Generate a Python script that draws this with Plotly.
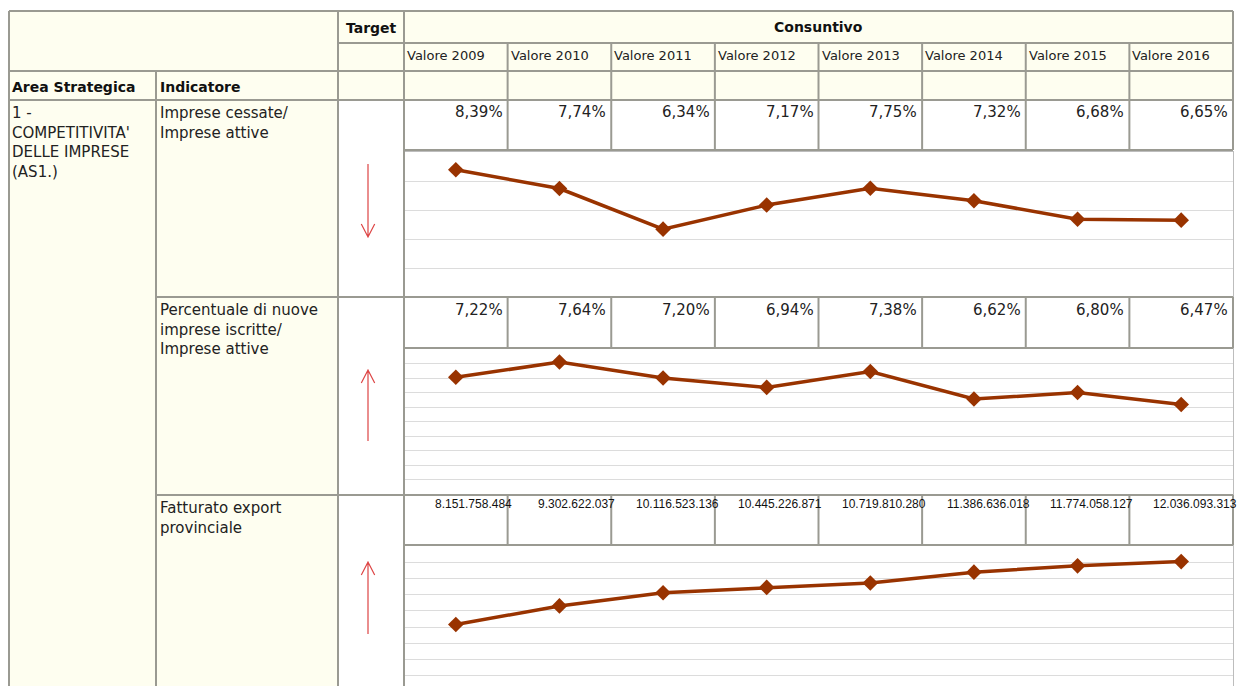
import plotly.graph_objects as go

# ---------------- data ----------------
years = ["2009", "2010", "2011", "2012", "2013", "2014", "2015", "2016"]
col_labels = ["Valore " + y for y in years]
area_label = "1 -<br>COMPETITIVITA'<br>DELLE IMPRESE<br>(AS1.)"
indicators = [
    "Imprese cessate/<br>Imprese attive",
    "Percentuale di nuove<br>imprese iscritte/<br>Imprese attive",
    "Fatturato export<br>provinciale",
]
targets = ["down", "up", "up"]
cessate = [8.39, 7.74, 6.34, 7.17, 7.75, 7.32, 6.68, 6.65]
iscritte = [7.22, 7.64, 7.20, 6.94, 7.38, 6.62, 6.80, 6.47]
export = [8151758484, 9302622037, 10116523136, 10445226871,
          10719810280, 11386636018, 11774058127, 12036093313]

# ---------------- layout helpers ----------------
W, H = 1242, 686
def X(px): return px / W
def Y(py): return 1 - py / H

LINE = "#9a9a92"
CREAM = "#fefef0"
BROWN = "#993300"
RED = "#dd4444"
GRID = "#dcdcdc"
FONT = "DejaVu Sans"

L, C1, C2, C3 = 9, 156, 338, 404
col_w = (1233 - 404) / 8
col_x = [C3 + col_w * i for i in range(9)]
R = col_x[-1]

# rows: (value row top, value row bottom, chart top, chart bottom)
rows = [(100, 150, 152, 297), (297, 348, 349, 494), (495, 545, 546, 686)]

fig = go.Figure()

series = [cessate, iscritte, export]
yranges = [([4, 9], 1), ([4, 8], 0.4), ([4.36e9, 13e9], 1e9)]
for k, (vals, (rng, dt)) in enumerate(zip(series, yranges)):
    ax = "" if k == 0 else str(k + 1)
    fig.add_trace(go.Scatter(
        x=list(range(len(years))), y=vals, mode="lines+markers",
        line=dict(color=BROWN, width=3.5),
        marker=dict(symbol="diamond", size=12, color=BROWN),
        xaxis="x" + ax, yaxis="y" + ax, showlegend=False, hoverinfo="skip"))
    _, _, ct, cb = rows[k]
    last = k == 2
    fig.update_layout(**{
        "xaxis" + ax: dict(domain=[X(C3), X(R)], range=[-0.5, 7.5],
                           showticklabels=False, showgrid=False, zeroline=False,
                           showline=True, linecolor="#bdbdbd", linewidth=1,
                           mirror=not last, side="top" if last else "bottom",
                           ticks="", anchor="y" + ax, fixedrange=True),
        "yaxis" + ax: dict(domain=[Y(cb), Y(ct)], range=rng, dtick=dt, tick0=0,
                           showticklabels=False, showgrid=True, gridcolor=GRID,
                           gridwidth=1.2, zeroline=False, showline=True,
                           linecolor="#bdbdbd", linewidth=1, mirror=True,
                           ticks="", anchor="x" + ax, fixedrange=True),
    })

shapes = []
def rect(x0, y0, x1, y1, color):
    shapes.append(dict(type="rect", xref="paper", yref="paper", x0=X(x0), x1=X(x1),
                       y0=Y(y1), y1=Y(y0), fillcolor=color, line=dict(width=0),
                       layer="below"))
def hline(y, x0, x1, w=2, c=LINE):
    shapes.append(dict(type="line", xref="paper", yref="paper", x0=X(x0), x1=X(x1),
                       y0=Y(y), y1=Y(y), line=dict(color=c, width=w)))
def vline(x, y0, y1, w=2, c=LINE):
    shapes.append(dict(type="line", xref="paper", yref="paper", x0=X(x), x1=X(x),
                       y0=Y(y0), y1=Y(y1), line=dict(color=c, width=w)))

rect(L, 11, R, 100, CREAM)
rect(L, 100, C2, H, CREAM)

hline(11, L, R)
hline(43, C2, R)
hline(71, L, R)
hline(100, L, R)
for (vt, vb, ct, cb) in rows:
    hline(vb, C3, R)
    if vt != 100:
        hline(vt, C1, R)
vline(L, 11, H)
vline(C1, 71, H)
vline(C2, 11, H)
vline(C3, 11, H)
vline(R, 11, 150)
for (vt, vb, ct, cb) in rows[1:]:
    vline(R, vt, vb)
for cx in col_x[1:-1]:
    vline(cx, 43, 150)
    for (vt, vb, ct, cb) in rows[1:]:
        vline(cx, vt, vb)

# target arrows
ax_x = 368
arrow_spans = [(164, 237), (370, 441), (562, 634)]
for d, (a0, a1) in zip(targets, arrow_spans):
    tip = a1 if d == "down" else a0
    back = -13 if d == "down" else 13
    path = (f"M {X(ax_x)},{Y(a0)} L {X(ax_x)},{Y(a1)} "
            f"M {X(ax_x-6.7)},{Y(tip+back)} L {X(ax_x)},{Y(tip)} L {X(ax_x+6.7)},{Y(tip+back)}")
    shapes.append(dict(type="path", xref="paper", yref="paper", path=path,
                       line=dict(color=RED, width=1.2)))

ann = []
def text(t, x, y, xa="left", ya="middle", size=14, bold=False, fam=FONT, color="#222222"):
    if bold:
        t = "<b>" + t + "</b>"
    ann.append(dict(text=t, x=X(x), y=Y(y), xref="paper", yref="paper",
                    xanchor=xa, yanchor=ya, showarrow=False, align="left",
                    font=dict(family=fam, size=size, color=color)))

text("Target", (C2 + C3) / 2, 28, xa="center", size=14, bold=True, color="#111111")
text("Consuntivo", (C3 + R) / 2, 27, xa="center", size=14, bold=True, color="#111111")
for i, lab in enumerate(col_labels):
    text(lab, col_x[i] + 1, 56, size=13)
text("Area Strategica", L + 1, 87, size=14, bold=True, color="#111111")
text("Indicatore", C1 + 2, 87, size=14, bold=True, color="#111111")
text(area_label, L + 1, 102, ya="top", size=15)
for k, ind in enumerate(indicators):
    text(ind, C1 + 2, rows[k][0] + 2, ya="top", size=15)

def pct(v):
    return f"{v:.2f}%".replace(".", ",")
def num(v):
    return f"{v:,}".replace(",", ".")

for i in range(len(years)):
    text(pct(cessate[i]), col_x[i + 1] - 3, 112, xa="right", size=15)
    text(pct(iscritte[i]), col_x[i + 1] - 3, 310, xa="right", size=15)
    text(num(export[i]), col_x[i + 1] + 6, 504, xa="right", size=12,
         fam="Liberation Sans", color="#111111")

fig.update_layout(width=W, height=H, margin=dict(l=0, r=0, t=0, b=0),
                  paper_bgcolor="white", plot_bgcolor="rgba(0,0,0,0)",
                  shapes=shapes, annotations=ann, showlegend=False)
fig.write_html("out.html", config={"displayModeBar": False},
               post_script="document.body.style.margin='0';document.body.style.overflow='hidden';")
